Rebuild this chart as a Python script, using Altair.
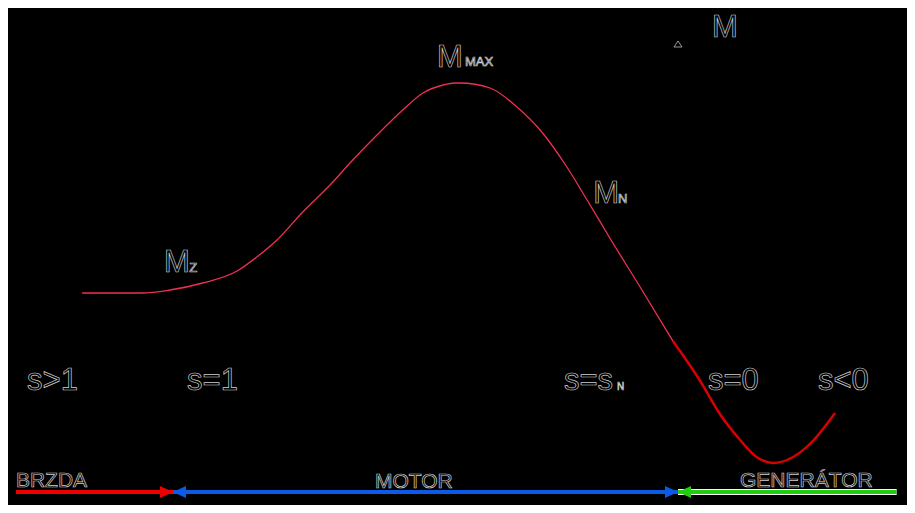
import altair as alt
import pandas as pd

# Torque-slip characteristic of an induction machine (slip s, torque M, arbitrary units)
slip = [1.180, 1.061, 1.006, 0.941, 0.873, 0.834, 0.794, 0.743, 0.689, 0.644,
        0.596, 0.545, 0.505, 0.465, 0.441, 0.432, 0.372, 0.319, 0.273, 0.220,
        0.180, 0.129, 0.075, 0.010, -0.044, -0.083, -0.123, -0.153, -0.188,
        -0.228, -0.267, -0.311]
torque = [54, 54, 57, 64, 76, 90, 107, 135, 162, 187,
          212, 237, 254, 262, 264, 264, 259, 240, 217, 180,
          147, 104, 60, 6, -34, -67, -93, -109, -116,
          -110, -94, -66]

# Labels (anchor in s / M units, left aligned)
big_text = ["s>1", "s=1", "s=s", "s=0", "s<0", "M", "M", "M", "M"]
big_s = [1.289, 0.972, 0.2257, -0.0594, -0.2772, -0.0673, 0.477, 1.018, 0.168]
big_m = [-43, -43, -43, -43, -43, 310, 280, 75, 144]

sub_text = ["MAX", "Z", "N"]
sub_s = [0.4218, 0.968, 0.119]
sub_m = [281, 75, 144]

tiny_text = ["N"]
tiny_s = [0.1208]
tiny_m = [-43]

region_text = ["BRZDA", "MOTOR", "GENERÁTOR"]
region_s = [1.311, 0.600, -0.1228]
region_m = [-140, -141, -140]

# Operating regions along the slip axis (arrows at the bottom)
brake_range = [1.311, 1.0]
motor_range = [1.0, 0.0]
gen_range = [0.0, -0.433]
arrow_m = -145
axis_top_m = 303

curve = pd.DataFrame({"s": slip, "m": torque})

X = lambda f="s": alt.X(f"{f}:Q", scale=alt.Scale(domain=[-0.4535, 1.3267], reverse=True,
                                                  nice=False, zero=False), axis=None)
Y = alt.Y("m:Q", scale=alt.Scale(domain=[-158, 339], nice=False, zero=False), axis=None)
ORD = alt.Order("s:Q", sort="descending")

upper = alt.Chart(curve).transform_filter("datum.s >= 0.0").mark_line(
    color="#f03050", strokeWidth=1.3, interpolate="monotone").encode(x=X(), y=Y, order=ORD)
lower = alt.Chart(curve).transform_filter("datum.s <= 0.01").mark_line(
    color="#d80000", strokeWidth=2.5, interpolate="monotone").encode(x=X(), y=Y, order=ORD)

txt_style = dict(font="Liberation Sans", fill="#000000", stroke="#d0d0d0",
                 strokeWidth=0.7, align="left", baseline="alphabetic")

big = alt.Chart(pd.DataFrame({"t": big_text, "s": big_s, "m": big_m})).mark_text(
    fontSize=31, **txt_style).encode(x=X(), y=Y, text="t:N")
sub = alt.Chart(pd.DataFrame({"t": sub_text, "s": sub_s, "m": sub_m})).mark_text(
    fontSize=13, **txt_style).encode(x=X(), y=Y, text="t:N")
tiny = alt.Chart(pd.DataFrame({"t": tiny_text, "s": tiny_s, "m": tiny_m})).mark_text(
    fontSize=10, **txt_style).encode(x=X(), y=Y, text="t:N")
regions = alt.Chart(pd.DataFrame({"t": region_text, "s": region_s, "m": region_m})).mark_text(
    fontSize=21, **txt_style).encode(x=X(), y=Y, text="t:N")

segs = pd.DataFrame({
    "name": ["brake", "motor", "gen"],
    "s": [brake_range[0], motor_range[0], gen_range[0]],
    "s2": [brake_range[1], motor_range[1], gen_range[1]],
    "m": [arrow_m] * 3,
})
seg_colors = alt.Scale(domain=["brake", "motor", "gen"], range=["#ee0000", "#0a5ce8", "#22cc11"])

gen_outline = alt.Chart(segs).transform_filter("datum.name == 'gen'").mark_rule(
    color="#ffffff", strokeWidth=6).encode(x=X(), x2="s2:Q", y=Y)
lines = alt.Chart(segs).mark_rule(strokeWidth=4).encode(
    x=X(), x2="s2:Q", y=Y, color=alt.Color("name:N", scale=seg_colors, legend=None))

head_path = "M-1,-0.92L1,0L-1,0.92Z"
head_path_l = "M1,-0.92L-1,0L1,0.92Z"
heads_r = pd.DataFrame({"name": ["brake", "motor"], "s": [brake_range[1], motor_range[1]],
                        "m": [arrow_m, arrow_m]})
heads_l = pd.DataFrame({"name": ["motor", "gen"], "s": [motor_range[0], gen_range[0]],
                        "m": [arrow_m, arrow_m]})
hr = alt.Chart(heads_r).mark_point(shape=head_path, size=169, filled=True, opacity=1,
                                   xOffset=-6.5).encode(
    x=X(), y=Y, color=alt.Color("name:N", scale=seg_colors, legend=None))
hl = alt.Chart(heads_l).mark_point(shape=head_path_l, size=169, filled=True, opacity=1,
                                   xOffset=6.5).encode(
    x=X(), y=Y, color=alt.Color("name:N", scale=seg_colors, legend=None))

axis_tip = alt.Chart(pd.DataFrame({"s": [0.0], "m": [axis_top_m]})).mark_point(
    shape="M0,-0.75L1,0.75L-1,0.75Z", size=64, filled=False, stroke="#bbbbbb",
    strokeWidth=0.8, opacity=1).encode(x=X(), y=Y)

chart = alt.layer(upper, lower, big, sub, tiny, regions, gen_outline, lines, hr, hl,
                  axis_tip).properties(
    width=899, height=497, background="#000000", padding=0
).configure_view(stroke=None)

chart.save("out.html", embed_options={"renderer": "svg", "actions": False})
